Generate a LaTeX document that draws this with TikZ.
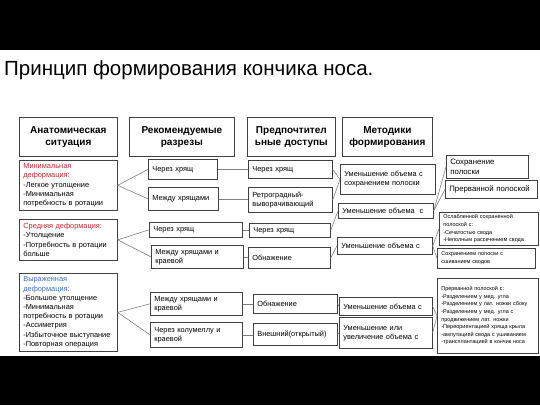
\documentclass[tikz,border=0pt]{standalone}
\usepackage{fontspec}
\setmainfont{Liberation Sans}
\definecolor{boxgray}{HTML}{404040}
\definecolor{linegray}{HTML}{808080}
\definecolor{degred}{HTML}{C0282D}
\definecolor{degblue}{HTML}{3A6EC0}
\newcommand{\notesize}{\fontsize{5.5}{7.6}\selectfont}
\begin{document}
\begin{tikzpicture}[x=1pt,y=-1pt]
\tikzset{every node/.style={font=\fontsize{7.4}{9.2}\selectfont}}
\tikzset{box/.style={draw=boxgray, line width=0.7pt, anchor=north west, align=left, inner xsep=4pt, inner ysep=1pt}}
\tikzset{head/.style={box, align=center, font=\bfseries\fontsize{10}{12.5}\selectfont}}
\tikzset{link/.style={draw=linegray, line width=0.6pt}}

\useasboundingbox (0,0) rectangle (540,405);
\fill[black] (0,0) rectangle (540,50);
\fill[black] (0,356) rectangle (540,405);

% Title
\node[anchor=west, font=\fontsize{20.5}{24}\selectfont, inner sep=0pt] at (4,70) (title) {Принцип формирования кончика носа.};

% Nodes for headers
\node[head, text width=90pt, minimum height=39pt] at (19,117) (hanat) {Анатомическая\\ситуация};
\node[head, text width=97pt, minimum height=39pt] at (129,117) (hrazr) {Рекомендуемые\\разрезы};
\node[head, text width=80pt, minimum height=39pt] at (247,117) (hdost) {Предпочтител\\ьные доступы};
\node[head, text width=82pt, minimum height=39pt] at (342,117) (hmet) {Методики\\формирования};

% Nodes for deformations
\node[box, text width=90pt, minimum height=50pt] at (19,160) (dmin) {\textcolor{degred}{Минимальная}\\\textcolor{degred}{деформация:}\\-Легкое утолщение\\-Минимальная\\потребность в ротации};
\node[box, text width=90pt, minimum height=41pt] at (19,219) (dmid) {\textcolor{degred}{Средняя деформация:}\\-Утолщение\\-Потребность в ротации\\больше};
\node[box, text width=90pt, minimum height=78pt] at (19,273) (dmax) {\textcolor{degblue}{Выраженная}\\\textcolor{degblue}{деформация:}\\-Большое утолщение\\-Минимальная\\потребность в ротации\\-Ассиметрия\\-Избыточное выступание\\-Повторная операция};

% Nodes for incisions
\node[box, text width=61pt, minimum height=20pt] at (148,159) (r1) {Через хрящ};
\node[box, text width=62pt, minimum height=23pt] at (148,187) (r2) {Между хрящами};
\node[box, text width=85pt, minimum height=15pt] at (149,222) (r3) {Через хрящ};
\node[box, text width=84pt, minimum height=23pt] at (151,245) (r4) {Между хрящами и\\краевой};
\node[box, text width=84pt, minimum height=23pt] at (150,292) (r5) {Между хрящами и\\краевой};
\node[box, text width=84pt, minimum height=25pt] at (150,322) (r6) {Через колумеллу и\\краевой};

% Nodes for approaches
\node[box, text width=76pt, minimum height=18pt] at (248,160) (a1) {Через хрящ};
\node[box, text width=76pt, minimum height=25pt] at (248,187) (a2) {Ретроградный-\\выворачивающий};
\node[box, text width=73pt, minimum height=14pt] at (249,223) (a3) {Через хрящ};
\node[box, text width=74pt, minimum height=21pt] at (248,247) (a4) {Обнажение};
\node[box, text width=76pt, minimum height=19pt] at (253,294) (a5) {Обнажение};
\node[box, text width=76pt, minimum height=22pt] at (253,323) (a6) {Внешний(открытый)};

% Nodes for methods
\node[box, text width=87pt, minimum height=30pt] at (340,164) (m1) {Уменьшение объема с\\сохранением полоски};
\node[box, text width=87pt, minimum height=15pt] at (338,203) (m2) {Уменьшение объема~~с};
\node[box, text width=87pt, minimum height=17pt] at (337,237) (m3) {Уменьшение объема с};
\node[box, text width=85pt, minimum height=18pt] at (339,297) (m4) {Уменьшение объема с};
\node[box, text width=85pt, minimum height=31pt] at (339,317) (m5) {Уменьшение или\\увеличение объема с};

% Nodes for variants
\node[box, text width=74pt, minimum height=23pt, font=\fontsize{7.8}{10}\selectfont] at (446,155) (s1) {Сохранение\\полоски};
\node[box, text width=84pt, minimum height=18pt, font=\fontsize{7.8}{10}\selectfont] at (445,180) (s2) {Прерванной полоской};
\node[box, text width=91pt, minimum height=33pt, font=\notesize] at (439,212) (s3) {Ослабленной сохраненной\\полоской с:\\-Сечатостью свода\\-Неполным рассечением свода};
\node[box, text width=90pt, minimum height=20pt, font=\notesize] at (437,248) (s4) {Сохранением полоски с\\сшиванием сводов};
\node[box, text width=93pt, minimum height=75pt, font=\notesize] at (437,278) (s5) {Прерванной полоской с:\\-Разделением у мед. угла\\-Разделением у лат. ножки сбоку\\-Разделением у мед. угла с\\продвижением лат. ножки\\-Переориентацией хряща крыла\\-ампутацией свода с ушиванием\\-трансплантацией в кончик носа};

% Lines from deformations
\draw[link] (dmin.east) -- (r1.west);
\draw[link] (dmin.east) -- (r2.west);
\draw[link] (dmid.east) -- (r3.west);
\draw[link] (dmid.east) -- (r4.west);
\draw[link] (dmax.east) -- (r5.west);
\draw[link] (dmax.east) -- (r6.west);

% Lines from incisions
\draw[link] (r1.east) -- (r1.east -| a1.west);
\draw[link] (r2.east) -- (r2.east -| a2.west);
\draw[link] (r3.east) -- (r3.east -| a3.west);
\draw[link] (r4.east) -- (r4.east -| a4.west);
\draw[link] (r5.east) -- (r5.east -| a5.west);
\draw[link] (r6.east) -- (r6.east -| a6.west);

% Lines from approaches
\draw[link] (a1.east) -- (m1.west);
\draw[link] (a2.east) -- (m1.west);
\draw[link] (a3.east) -- (m2.west);
\draw[link] (a4.east) -- (m3.west);
\draw[link] (a5.east) -- (m4.west);
\draw[link] (a6.east) -- (m5.west);

% Lines from methods
\draw[link] (m2.east) -- (s1.west);
\draw[link] (m2.east) -- (s2.west);
\draw[link] (m3.east) -- (s3.west);
\draw[link] (m3.east) -- (s4.west);
\draw[link] (m4.east) -- (s5.west);
\draw[link] (m5.east) -- (s5.west);
\end{tikzpicture}
\end{document}
